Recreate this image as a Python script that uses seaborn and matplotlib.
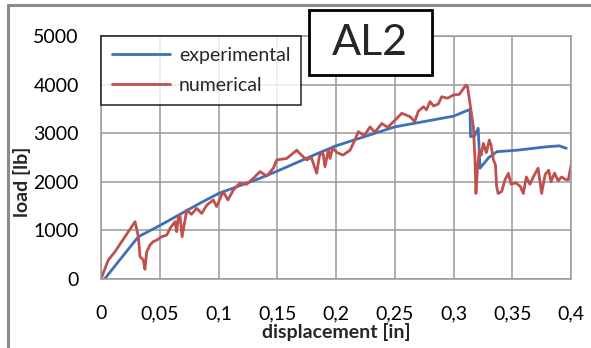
import matplotlib
matplotlib.use("Agg")
import matplotlib.pyplot as plt
import seaborn as sns
import pandas as pd
from matplotlib.lines import Line2D
from matplotlib.patches import Rectangle
from matplotlib.ticker import FixedLocator

# ---- data ----
exp_x = [0.003, 0.0318, 0.05, 0.0843, 0.1, 0.135, 0.15, 0.186, 0.195, 0.2, 0.25,
         0.3, 0.314, 0.3145, 0.318, 0.321, 0.3226, 0.33, 0.337, 0.354, 0.379, 0.39, 0.396]
exp_y = [0, 870, 1100, 1560, 1760, 2070, 2220, 2600, 2690, 2740, 3130,
         3350, 3490, 2930, 2950, 3100, 2280, 2500, 2620, 2650, 2720, 2740, 2690]

num_x = [0.0, 0.0062, 0.0119, 0.029, 0.0318, 0.0332, 0.036, 0.0374, 0.0389, 0.0417,
         0.0445, 0.0474, 0.0516, 0.056, 0.0587, 0.063, 0.0644, 0.0658, 0.0672, 0.069,
         0.073, 0.077, 0.0814, 0.0857, 0.09, 0.0956, 0.0984, 0.104, 0.108, 0.1126,
         0.118, 0.124, 0.1296, 0.1353, 0.141, 0.1467, 0.1495, 0.158, 0.1666, 0.169,
         0.175, 0.179, 0.1836, 0.186, 0.189, 0.1906, 0.1935, 0.195, 0.197, 0.201,
         0.206, 0.212, 0.216, 0.219, 0.224, 0.229, 0.233, 0.239, 0.244, 0.2515,
         0.256, 0.263, 0.267, 0.27, 0.2745, 0.277, 0.28, 0.283, 0.287, 0.29, 0.295,
         0.2998, 0.305, 0.3106, 0.312, 0.314, 0.3169, 0.3183, 0.3191, 0.3203, 0.322,
         0.3235, 0.3254, 0.328, 0.3305, 0.332, 0.334, 0.3357, 0.3367, 0.338, 0.341,
         0.3438, 0.3467, 0.349, 0.353, 0.357, 0.3594, 0.362, 0.365, 0.369, 0.372,
         0.375, 0.378, 0.381, 0.383, 0.386, 0.389, 0.392, 0.395, 0.3977, 0.4006]
num_y = [0, 390, 563, 1180, 870, 460, 390, 200, 560, 700,
         770, 800, 870, 905, 1040, 1180, 975, 1280, 1317, 870,
         1420, 1330, 1455, 1350, 1520, 1625, 1490, 1800, 1625, 1830,
         1970, 1950, 2070, 2210, 2120, 2280, 2450, 2480, 2650, 2586,
         2450, 2500, 2175, 2550, 2586, 2310, 2650, 2480, 2690, 2600,
         2550, 2650, 2860, 3030, 2950, 3130, 3020, 3200, 3120, 3300,
         3410, 3340, 3240, 3450, 3545, 3480, 3650, 3560, 3600, 3750, 3720,
         3785, 3800, 3990, 3950, 3615, 3130, 2450, 1760, 2240, 2650,
         2550, 2790, 2600, 2860, 2750, 2450, 2350, 1900, 1760, 1800,
         2040, 2175, 1950, 1980, 1900, 1760, 2100, 1950, 2150, 2280,
         1760, 2150, 2240, 2000, 2180, 2020, 2100, 2050, 2040, 2410]

x_ticks = [0, 0.05, 0.1, 0.15, 0.2, 0.25, 0.3, 0.35, 0.4]
x_tick_labels = ["0", "0,05", "0,1", "0,15", "0,2", "0,25", "0,3", "0,35", "0,4"]
y_ticks = [0, 1000, 2000, 3000, 4000, 5000]
series_names = ["experimental", "numerical"]
series_colors = ["#3F6FB6", "#C0504D"]

df = pd.concat([
    pd.DataFrame({"x": exp_x, "y": exp_y, "series": series_names[0]}),
    pd.DataFrame({"x": num_x, "y": num_y, "series": series_names[1]}),
], ignore_index=True)

sns.set_theme(style="white")
plt.rcParams["font.family"] = ["Lato", "DejaVu Sans"]

W, H = 591, 348
fig = plt.figure(figsize=(W / 100, H / 100), dpi=100)
ax = fig.add_axes([101 / W, 1 - 279 / H, 470 / W, 243 / H])

sns.lineplot(data=df, x="x", y="y", hue="series", palette=dict(zip(series_names, series_colors)),
             sort=False, estimator=None, linewidth=2.0, ax=ax, legend=False)

ax.set_xlim(0, 0.4)
ax.set_ylim(0, 5000)
ax.xaxis.set_major_locator(FixedLocator(x_ticks))
ax.set_xticklabels(x_tick_labels)
ax.yaxis.set_major_locator(FixedLocator(y_ticks))
ax.set_yticklabels([str(v) for v in y_ticks])
ax.tick_params(axis="both", length=0, labelsize=14, colors="black")
ax.tick_params(axis="y", pad=16)
ax.tick_params(axis="x", pad=19)
ax.grid(True, color="#9a9a9a", linewidth=1.1)
ax.set_axisbelow(True)
for s in ax.spines.values():
    s.set_color("#9a9a9a")
    s.set_linewidth(1.1)

ax.set_xlabel("displacement [in]", fontsize=14, fontweight="bold")
ax.xaxis.set_label_coords(0.5, (279 - 323) / 243)
ax.set_ylabel("load [lb]", fontsize=14, fontweight="bold")
ax.yaxis.set_label_coords((31 - 101) / 470, 0.40)

handles = [Line2D([0], [0], color=c, linewidth=2.0) for c in series_colors]
leg = ax.legend(handles, series_names, loc="upper left", bbox_to_anchor=(0.0, 1.0),
                fontsize=14, frameon=True, fancybox=False, borderpad=0.55,
                handlelength=3.0, handletextpad=0.45, labelspacing=0.7, borderaxespad=0)
leg.get_frame().set_edgecolor("black")
leg.get_frame().set_linewidth(1.2)

# "AL2" title box
fig.add_artist(Rectangle((309 / W, 1 - 75 / H), 123 / W, 65 / H, transform=fig.transFigure,
                         facecolor="white", edgecolor="black", linewidth=2, zorder=5))
fig.text(370 / W, 1 - 43 / H, "AL2", fontsize=31, ha="center", va="center", zorder=6)

# outer frame of the chart
fig.add_artist(Line2D([8 / W, 1.0], [1 - 5 / H, 1 - 5 / H], color="#8a8a8a", lw=2.2,
                      transform=fig.transFigure))
fig.add_artist(Line2D([8 / W, 8 / W], [0.0, 1 - 5 / H], color="#8a8a8a", lw=2.2,
                      transform=fig.transFigure))

fig.savefig("out.png", dpi=100)
